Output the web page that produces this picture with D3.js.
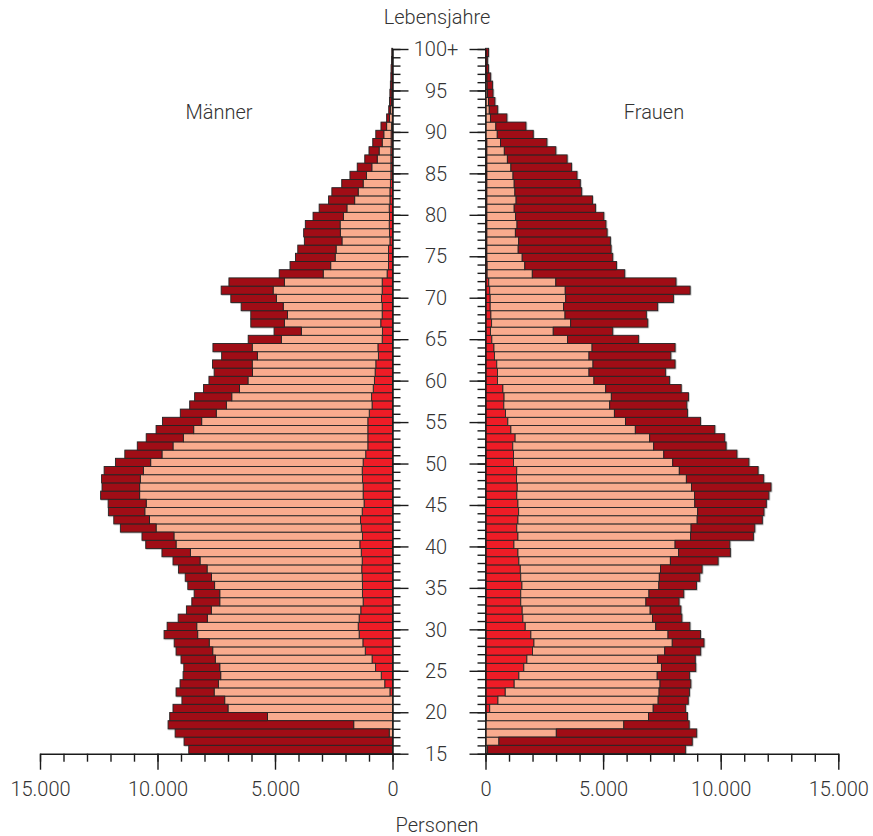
<!DOCTYPE html>
<html lang="de">
<head>
<meta charset="utf-8">
<script src="https://cdn.jsdelivr.net/npm/d3@7/dist/d3.min.js"></script>
<style>
  html, body { margin: 0; padding: 0; background: #fff; }
  svg { display: block; }
  text { font-family: Roboto, "Liberation Sans", sans-serif; font-weight: 300; fill: #333; }
</style>
</head>
<body>
<svg id="chart" width="873" height="836"></svg>
<script>
// Altersjahre 15 bis 100+ (von unten nach oben)
const ages = d3.range(15, 101);

// Männer: drei Teilgruppen je Altersjahr (Personen), Alter 15 ... 100+
const menRed = [
  0, 0, 0, 0, 0, 0, 0, 110, 330, 480,
  720, 870, 1160, 1260, 1420, 1460, 1420, 1350, 1250, 1280,
  1280, 1290, 1310, 1290, 1330, 1390, 1280, 1330, 1360, 1290,
  1210, 1250, 1250, 1280, 1290, 1250, 1140, 1050, 1050, 1050,
  1050, 990, 870, 890, 820, 770, 740, 710, 600, 620,
  440, 430, 500, 440, 440, 470, 440, 440, 230, 170,
  170, 170, 110, 130, 140, 130, 140, 110, 110, 90,
  70, 70, 70, 70, 60, 60, 40, 10, 10, 0,
  0, 0, 0, 0, 0, 0
];
const menSalmon = [
  0, 0, 140, 1650, 5320, 7000, 7140, 7480, 7080, 6830,
  6630, 6670, 6490, 6540, 6870, 6870, 6460, 6360, 6100, 6070,
  6290, 6410, 6580, 6900, 7270, 7820, 8020, 8730, 8980, 9250,
  9270, 9510, 9510, 9450, 9310, 9040, 8670, 8290, 7850, 7410,
  7070, 6510, 6200, 5950, 5690, 5380, 5220, 5260, 5150, 5350,
  4290, 3450, 4100, 4030, 4210, 4470, 4640, 4160, 2720, 2460,
  2270, 2230, 2040, 2090, 2090, 1960, 1800, 1500, 1350, 1160,
  1040, 810, 580, 500, 380, 310, 210, 120, 80, 40,
  30, 20, 10, 10, 0, 0
];
const menDark = [
  8670, 8870, 9110, 7900, 4160, 2340, 1820, 1620, 1630, 1600,
  1530, 1460, 1560, 1490, 1430, 1260, 1240, 1060, 1190, 1090,
  1140, 1120, 1220, 1150, 1210, 1290, 1360, 1520, 1520, 1550,
  1620, 1660, 1600, 1650, 1670, 1500, 1580, 1520, 1580, 1600,
  1670, 1530, 1560, 1580, 1530, 1660, 1630, 1690, 1520, 1670,
  1410, 1160, 1430, 1560, 1790, 1940, 2210, 2360, 1870, 1730,
  1690, 1630, 1600, 1560, 1480, 1290, 1180, 1110, 1120, 910,
  700, 620, 530, 430, 400, 340, 240, 120, 70, 90,
  80, 70, 60, 50, 40, 30
];

// Frauen: drei Teilgruppen je Altersjahr (Personen), Alter 15 ... 100+
const womenRed = [
  0, 0, 0, 0, 30, 180, 530, 840, 1220, 1420,
  1630, 1760, 2000, 2060, 1930, 1690, 1590, 1560, 1500, 1500,
  1550, 1500, 1480, 1420, 1380, 1210, 1380, 1330, 1380, 1410,
  1380, 1330, 1350, 1320, 1330, 1190, 1190, 1160, 1260, 1080,
  950, 850, 780, 790, 740, 510, 510, 480, 380, 360,
  270, 210, 260, 230, 200, 200, 180, 140, 70, 70,
  60, 60, 60, 60, 60, 60, 60, 60, 60, 60,
  60, 60, 60, 60, 60, 0, 0, 0, 0, 0,
  0, 0, 0, 0, 0, 0
];
const womenSalmon = [
  90, 570, 3010, 5880, 6900, 6950, 6810, 6540, 6200, 5880,
  5850, 5560, 5620, 5880, 5830, 5550, 5510, 5440, 5320, 5450,
  5820, 5890, 5960, 6440, 6830, 6850, 7340, 7410, 7620, 7610,
  7520, 7560, 7410, 7220, 6910, 6770, 6390, 5990, 5720, 5290,
  5000, 4630, 4500, 4560, 4370, 4100, 3890, 4090, 4020, 4170,
  3220, 2670, 3360, 3150, 3120, 3210, 3210, 2850, 1920, 1600,
  1500, 1330, 1350, 1210, 1280, 1220, 1160, 1240, 1190, 1160,
  1110, 1020, 870, 740, 580, 500, 440, 210, 160, 130,
  90, 70, 60, 0, 0, 0
];
const womenDark = [
  8420, 8220, 5970, 2780, 1660, 1380, 1280, 1290, 1310, 1380,
  1460, 1600, 1530, 1350, 1380, 1450, 1250, 1310, 1410, 1480,
  1600, 1720, 1770, 2030, 2200, 2330, 2670, 2710, 2770, 2820,
  3040, 3160, 3380, 3290, 3350, 3240, 3110, 3080, 3190, 3380,
  3190, 3110, 3280, 3280, 3210, 3220, 3260, 3490, 3480, 3530,
  3020, 2530, 3280, 3460, 4000, 4580, 5310, 5110, 3930, 3900,
  3850, 3950, 3900, 3900, 3780, 3750, 3460, 3250, 2840, 2810,
  2720, 2580, 2540, 2190, 1970, 1530, 1280, 700, 360, 270,
  230, 230, 160, 130, 90, 130
];

// Achsenbeschriftung
const xTickValues = [0, 5000, 10000, 15000];
const xMinorValues = d3.range(0, 15001, 1000);
const ageMajorValues = d3.range(15, 101, 5);
const ageMinorValues = ages;
const ageLabel = a => (a === 100 ? "100+" : String(a));

const segmentKeys = ["red", "salmon", "dark"];
const segmentColor = { red: "#EE1D25", salmon: "#F9AB8E", dark: "#A00C13" };

const de = d3.formatLocale({ decimal: ",", thousands: ".", grouping: [3], currency: ["", " €"] });
const fmt = de.format(",");

const svg = d3.select("#chart");

// Skalen
const xL = d3.scaleLinear().domain([0, 15000]).range([392.5, 40]);
const xR = d3.scaleLinear().domain([0, 15000]).range([485.5, 838.3]);
const yBand = d3.scaleBand().domain(ages).range([753.5, 48.3]).padding(0);
const yTick = d3.scaleLinear().domain([15, 100]).range([753.7, 49]);

// Weicher Rand um die Balken
const defs = svg.append("defs");
const halo = defs.append("filter").attr("id", "halo")
  .attr("x", "-5%").attr("y", "-5%").attr("width", "110%").attr("height", "110%");
halo.append("feDropShadow")
  .attr("dx", 0.6).attr("dy", 0.6).attr("stdDeviation", 0.7)
  .attr("flood-color", "#000").attr("flood-opacity", 0.35);

// Tabellen für die Stapelung
const menRows = ages.map((a, i) => ({ age: a, red: menRed[i], salmon: menSalmon[i], dark: menDark[i] }));
const womenRows = ages.map((a, i) => ({ age: a, red: womenRed[i], salmon: womenSalmon[i], dark: womenDark[i] }));
const stack = d3.stack().keys(segmentKeys);

function drawSide(rows, x, side) {
  const g = svg.append("g").attr("class", "bars-" + side).attr("filter", "url(#halo)");
  const series = stack(rows);
  series.forEach(s => {
    const key = s.key;
    g.selectAll(null)
      .data(s.filter(d => d[1] - d[0] > 0))
      .join("rect")
      .attr("x", d => Math.min(x(d[0]), x(d[1])))
      .attr("width", d => Math.abs(x(d[1]) - x(d[0])))
      .attr("y", d => yBand(d.data.age))
      .attr("height", yBand.bandwidth())
      .attr("fill", segmentColor[key])
      .attr("stroke", "#262626")
      .attr("stroke-width", 0.9);
  });
}
drawSide(menRows, xL, "m");
drawSide(womenRows, xR, "w");

// Horizontale Achsen (Personen)
function styleAxis(g) {
  g.selectAll("path, line").attr("stroke", "#1a1a1a").attr("stroke-width", 1.4);
  g.selectAll("text").attr("font-size", 20).attr("fill", "#333")
    .style("font-family", "Roboto, 'Liberation Sans', sans-serif").style("font-weight", 300);
}
const baseY = 753.7;
[xL, xR].forEach(x => {
  const minor = svg.append("g").attr("transform", `translate(0,${baseY})`)
    .call(d3.axisBottom(x).tickValues(xMinorValues).tickSize(8).tickSizeOuter(0).tickFormat(""));
  styleAxis(minor);
  const major = svg.append("g").attr("transform", `translate(0,${baseY})`)
    .call(d3.axisBottom(x).tickValues(xTickValues).tickSize(16).tickSizeOuter(0).tickPadding(12).tickFormat(fmt));
  styleAxis(major);
  major.select(".domain").remove();
});

// Vertikale Achsen (Lebensjahre)
const leftAxisX = 392.5, rightAxisX = 485.5;
const lMinor = svg.append("g").attr("transform", `translate(${leftAxisX},0)`)
  .call(d3.axisRight(yTick).tickValues(ageMinorValues).tickSize(8).tickSizeOuter(0).tickFormat(""));
styleAxis(lMinor);
const lMajor = svg.append("g").attr("transform", `translate(${leftAxisX},0)`)
  .call(d3.axisRight(yTick).tickValues(ageMajorValues).tickSize(16).tickSizeOuter(0).tickFormat(""));
styleAxis(lMajor);
lMajor.select(".domain").remove();
const rMinor = svg.append("g").attr("transform", `translate(${rightAxisX},0)`)
  .call(d3.axisLeft(yTick).tickValues(ageMinorValues).tickSize(8).tickSizeOuter(0).tickFormat(""));
styleAxis(rMinor);
const rMajor = svg.append("g").attr("transform", `translate(${rightAxisX},0)`)
  .call(d3.axisLeft(yTick).tickValues(ageMajorValues).tickSize(16).tickSizeOuter(0).tickFormat(""));
styleAxis(rMajor);
rMajor.select(".domain").remove();

// Altersbeschriftung zwischen den Achsen
svg.append("g").selectAll("text")
  .data(ageMajorValues)
  .join("text")
  .attr("x", 436)
  .attr("y", d => yTick(d))
  .attr("dy", "0.36em")
  .attr("text-anchor", "middle")
  .attr("font-size", 20)
  .text(ageLabel);

// Titel und Gruppennamen
const labels = [
  { t: "Lebensjahre", x: 437, y: 24 },
  { t: "Männer", x: 219, y: 119 },
  { t: "Frauen", x: 654, y: 119 },
  { t: "Personen", x: 437, y: 832 }
];
svg.append("g").selectAll("text")
  .data(labels)
  .join("text")
  .attr("x", d => d.x)
  .attr("y", d => d.y)
  .attr("text-anchor", "middle")
  .attr("font-size", 20)
  .text(d => d.t);
</script>
</body>
</html>
